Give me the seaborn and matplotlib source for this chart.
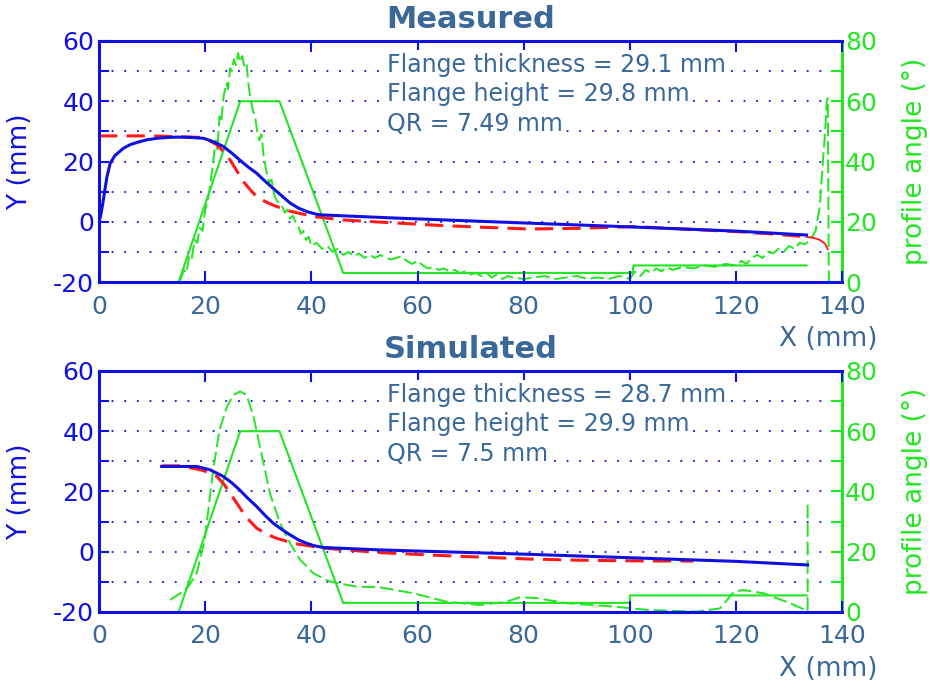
import matplotlib
matplotlib.use("Agg")
import matplotlib.pyplot as plt
from matplotlib.ticker import MultipleLocator
import seaborn as sns

plt.rcParams["axes.unicode_minus"] = False

BLUE = "#1010e0"
GREEN = "#22e622"
RED = "#ff1a1a"
TXT = "#3a6898"

# ---- Measured ----
meas_blue_x = [0.0, 0.3, 0.7, 1.1, 1.5, 2.1, 3.0, 4.6, 6.0, 7.7, 9.0, 10.9, 13.0, 15.0, 17.2,
               19.7, 21.5, 23.4, 25.0, 26.5, 28.0, 29.7, 31.2, 32.8, 34.5, 36.0, 37.5, 39.1,
               40.5, 41.6, 54.8, 80.0, 100.0, 120.0, 133.3]
meas_blue_y = [0.0, 2.0, 6.0, 10.6, 15.0, 19.4, 22.0, 24.4, 25.7, 26.6, 27.2, 27.7, 28.0, 28.1, 28.0,
               27.7, 26.6, 25.0, 22.8, 20.5, 18.3, 16.1, 13.6, 11.1, 8.5, 6.2, 4.6, 3.4,
               2.7, 2.3, 1.3, -0.4, -1.7, -3.1, -4.4]

meas_red_x = [0.0, 10.0, 19.1, 20.7, 22.2, 23.5, 24.7, 26.0, 27.2, 28.5, 29.7, 31.2, 32.8, 34.5,
              36.0, 38.5, 41.0, 46.0, 54.8, 65.0, 80.6, 90.0, 100.7, 110.0, 121.4, 128.0, 133.3]
meas_red_y = [28.5, 28.5, 28.0, 27.0, 25.5, 23.2, 20.5, 16.8, 13.3, 10.6, 8.3, 6.8, 5.5, 4.4,
              3.5, 2.5, 1.6, 0.6, -0.3, -1.3, -2.4, -2.2, -1.6, -2.4, -3.4, -4.2, -5.0]
meas_red_tail_x = [133.3, 134.5, 135.8, 136.8, 137.3]
meas_red_tail_y = [-5.0, -5.3, -6.0, -7.3, -9.1]

meas_ang_x = [15.0, 26.6, 34.0, 46.0, 100.5, 100.7, 133.3]
meas_ang_y = [0.0, 60.0, 60.0, 3.0, 3.0, 5.5, 5.5]

meas_prof_x = [15.3, 16.0, 16.5, 17.0, 17.5, 18.0, 18.5, 19.0, 19.5, 20.0, 20.5, 21.0, 21.5, 22.0,
               22.3, 22.7, 23.0, 23.5, 24.0, 24.3, 24.7, 25.0, 25.4, 25.8, 26.2, 26.6, 27.0,
               27.4, 27.8, 28.2, 28.6, 29.0, 29.4, 29.8, 30.2, 30.6, 31.0, 31.5, 32.0, 32.5,
               33.0, 33.5, 34.0, 34.5, 35.0, 35.5, 36.0, 36.5, 37.0, 37.5, 38.0, 38.5, 39.0,
               39.5, 40.0, 41, 42, 43, 44, 45, 46, 47, 48, 49, 50, 51, 52, 53, 54, 55, 56, 57,
               58, 59, 60, 61, 62, 63, 64, 65, 66, 67, 68, 69, 70, 71, 72, 73, 74, 75, 76, 77,
               78, 80, 82, 84, 86, 88, 90, 92, 94, 96, 98, 100, 101, 102, 103, 104, 105, 106,
               107, 108, 110, 112, 114, 116, 118, 120, 121, 122, 123, 124, 125, 126, 127, 128,
               129, 130, 131, 132, 133, 134, 135, 135.8, 136.3, 136.8, 137.1, 137.3, 137.4, 137.5]
meas_prof_y = [0.5, 4, 3, 9, 8, 14, 13, 18, 17, 24, 27, 33, 40, 47,
               44, 55, 53, 62, 66, 64, 71, 70, 74, 72, 76, 73, 75,
               71, 72, 65, 60, 57, 55, 50, 47, 49, 42, 37, 33, 34,
               29, 27, 26, 25, 23, 24, 21, 22, 20, 19, 16, 17, 14,
               15, 12, 13, 11, 12, 10, 11, 9, 10, 8.5, 9.5, 8, 9, 8, 9, 8, 7.5, 8, 8.5,
               7, 6, 7, 5.5, 4.5, 5, 4, 4.5, 3.5, 4, 3, 3.5, 2.5, 3, 2, 3, 1.5, 2.5, 1, 2,
               1.5, 1, 1.5, 2, 1, 1.5, 2, 1, 1.5, 1, 2, 1, 3.5, 2, 4, 3, 4.5, 3.5,
               5, 4, 5, 4.5, 5.5, 5, 6, 5.5, 7, 6, 8, 9, 8, 10, 9.5, 11,
               10, 12, 11, 13, 12.5, 14, 17, 25, 38, 50, 60, 61, 30, 0]

# ---- Simulated ----
sim_blue_x = [11.8, 15.0, 18.4, 20.9, 23.4, 25.0, 26.5, 28.0, 29.7, 31.2, 32.8, 34.5, 36.0, 37.5,
              39.1, 40.5, 42.3, 52.9, 80.0, 100.0, 120.0, 133.5]
sim_blue_y = [28.3, 28.3, 28.3, 27.2, 25.0, 22.9, 20.5, 17.8, 15.0, 12.2, 9.5, 7.3, 5.6, 4.0,
              2.8, 2.0, 1.4, 0.6, -0.8, -2.0, -3.2, -4.4]

sim_red_x = [11.8, 15.3, 19.1, 20.7, 22.2, 23.5, 24.7, 26.0, 27.2, 28.5, 29.7, 31.5, 33.4, 35.3,
             37.2, 42.3, 52.9, 65.0, 80.6, 90.0, 100.7, 112.0]
sim_red_y = [28.5, 28.5, 27.2, 26.3, 25.0, 22.5, 19.4, 16.0, 12.8, 10.0, 7.8, 5.9, 4.5, 3.5,
             2.6, 1.2, -0.3, -1.3, -2.4, -2.8, -3.05, -3.1]

sim_ang_x = [15.0, 26.6, 34.0, 46.0, 100.0, 100.0, 133.3]
sim_ang_y = [0.0, 60.0, 60.0, 3.0, 3.0, 5.5, 5.5]

sim_prof_x = [13.4, 15.3, 16.8, 18.4, 19.9, 21.5, 22.7, 24.1, 25.4, 26.6, 27.8, 29.1, 30.3, 32.2,
              34.1, 36.0, 37.9, 40.4, 43.5, 48.5, 52.9, 59.2, 65.5, 71.8, 76.8, 79.3, 82.5,
              88.1, 96.9, 103.2, 112.6, 117.0, 119.6, 121.4, 125.2, 130.2, 133.0, 133.5, 133.5]
sim_prof_y = [4.0, 6.2, 8.4, 12.8, 23.9, 47.0, 60.5, 68.2, 72.1, 73.2, 72.0, 64.9, 54.9, 39.4,
              29.5, 22.8, 17.3, 12.8, 10.1, 8.4, 8.2, 6.2, 3.4, 2.3, 3.4, 4.9, 4.6,
              2.9, 1.8, 0.7, 0.1, 1.2, 6.7, 7.3, 6.2, 2.9, 0.7, 0.3, 37.2]

meas_text = ["Flange thickness = 29.1 mm", "Flange height = 29.8 mm", "QR = 7.49 mm"]
sim_text = ["Flange thickness = 28.7 mm", "Flange height = 29.9 mm", "QR = 7.5 mm"]

x_ticks = [0, 20, 40, 60, 80, 100, 120, 140]
y_ticks = [-20, 0, 20, 40, 60]
ang_ticks = [0, 20, 40, 60, 80]


def panel(ax, title, texts, blue, red, red_tail, ang, prof):
    ax2 = ax.twinx()
    sns.lineplot(x=prof[0], y=prof[1], ax=ax2, color=GREEN, lw=1.4,
                 linestyle=(0, (7, 2.5)), sort=False, estimator=None)
    sns.lineplot(x=ang[0], y=ang[1], ax=ax2, color=GREEN, lw=1.5,
                 sort=False, estimator=None)
    sns.lineplot(x=red[0], y=red[1], ax=ax, color=RED, lw=2.2,
                 linestyle=(0, (6, 3)), sort=False, estimator=None)
    if red_tail is not None:
        sns.lineplot(x=red_tail[0], y=red_tail[1], ax=ax, color=RED, lw=1.3,
                     sort=False, estimator=None)
    sns.lineplot(x=blue[0], y=blue[1], ax=ax, color=BLUE, lw=2.2,
                 sort=False, estimator=None)
    # blue/red axis drawn above the green twin axis
    ax.set_zorder(ax2.get_zorder() + 1)
    ax.patch.set_visible(False)
    ax2.patch.set_visible(True)
    ax2.patch.set_facecolor("white")

    ax.set_xlim(0, 140)
    ax.set_ylim(-20, 60)
    ax2.set_ylim(0, 80)
    ax.set_xticks(x_ticks)
    ax.set_yticks(y_ticks)
    ax.yaxis.set_minor_locator(MultipleLocator(10))
    ax2.set_yticks(ang_ticks)
    ax2.yaxis.set_minor_locator(MultipleLocator(10))

    ax2.grid(False)
    ax2.xaxis.grid(True, color=BLUE, lw=1.3, linestyle=(0, (1, 6)))
    ax2.yaxis.grid(True, which="both", color=BLUE, lw=1.3, linestyle=(0, (1, 6)))
    ax2.set_axisbelow(True)

    ax.tick_params(axis="x", direction="in", top=True, length=8, width=1.5,
                   color=BLUE, labelcolor=TXT, labelsize=18, pad=9)
    ax.tick_params(axis="y", which="both", direction="in", length=7, width=1.5,
                   color=BLUE, labelcolor=BLUE, labelsize=18, right=False)
    ax2.tick_params(axis="y", which="both", direction="in", length=8, width=1.5,
                    color=GREEN, labelcolor=GREEN, labelsize=18, pad=2)

    for side in ["top", "bottom", "left"]:
        ax.spines[side].set_color(BLUE)
        ax.spines[side].set_linewidth(2.2)
        ax2.spines[side].set_visible(False)
    ax.spines["right"].set_visible(False)
    ax2.spines["right"].set_color(GREEN)
    ax2.spines["right"].set_linewidth(2.2)

    ax.set_xlabel("")
    ax.set_ylabel("Y (mm)", color=BLUE, fontsize=19)
    ax.yaxis.set_label_coords(-0.089, 0.5)
    ax2.set_ylabel("profile angle (°)", color=GREEN, fontsize=19)
    ax2.yaxis.set_label_coords(1.081, 0.5)
    ax.text(1.047, -0.265, "X (mm)", transform=ax.transAxes, ha="right",
            va="baseline", color=TXT, fontsize=19)

    ax.set_title(title, color=TXT, fontsize=22, fontweight="bold", pad=9)
    for i, t in enumerate(texts):
        ax.text(0.3876, 0.873 - 0.123 * i, t, transform=ax.transAxes,
                ha="left", va="baseline", color=TXT, fontsize=17,
                bbox=dict(facecolor="white", edgecolor="none", pad=1.5))


fig = plt.figure(figsize=(9.3, 6.89), dpi=100)
ax_top = fig.add_axes([0.1065, 0.5907, 0.799, 0.3498])
ax_bot = fig.add_axes([0.1065, 0.1118, 0.799, 0.3498])

panel(ax_top, "Measured", meas_text,
      (meas_blue_x, meas_blue_y), (meas_red_x, meas_red_y),
      (meas_red_tail_x, meas_red_tail_y),
      (meas_ang_x, meas_ang_y), (meas_prof_x, meas_prof_y))
panel(ax_bot, "Simulated", sim_text,
      (sim_blue_x, sim_blue_y), (sim_red_x, sim_red_y), None,
      (sim_ang_x, sim_ang_y), (sim_prof_x, sim_prof_y))

fig.savefig("out.png", dpi=100)
